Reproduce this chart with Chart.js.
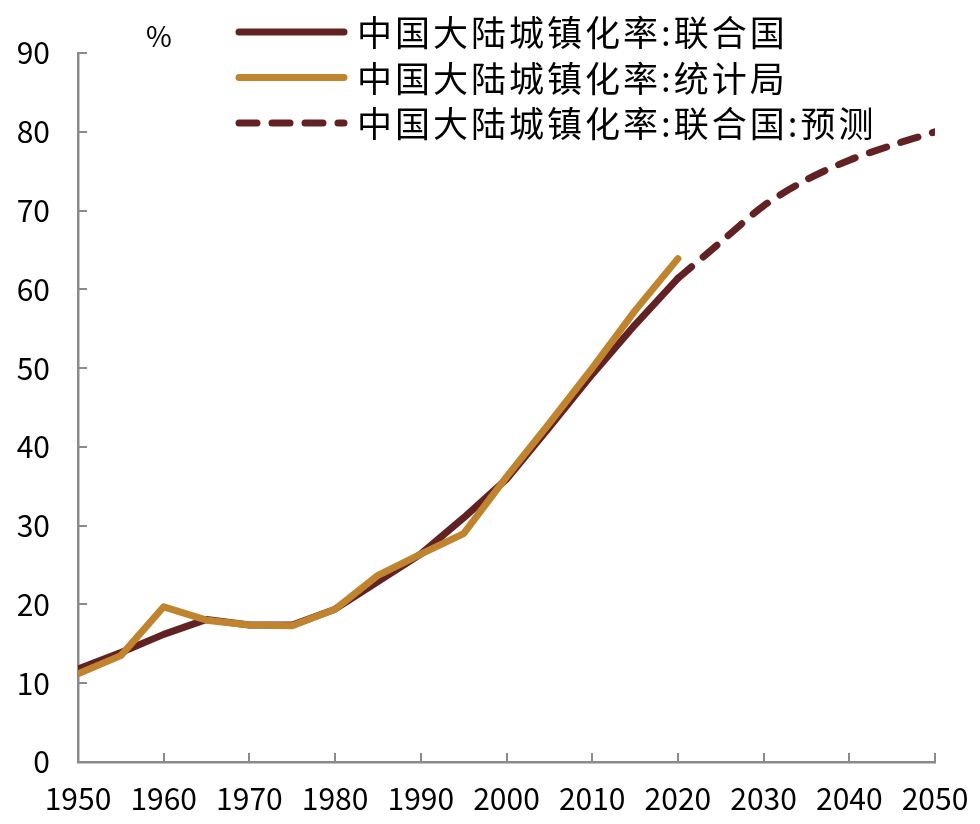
<!DOCTYPE html>
<html>
<head>
<meta charset="utf-8">
<script src="https://cdn.jsdelivr.net/npm/chart.js@4.4.1/dist/chart.umd.min.js"></script>
<style>
html,body{margin:0;padding:0;background:#fff;}
#wrap{width:980px;height:824px;position:relative;}
</style>
</head>
<body>
<div id="wrap"><canvas id="c" width="980" height="824"></canvas></div>
<script>
// ---- data ----
const years = [1950,1955,1960,1965,1970,1975,1980,1985,1990,1995,2000,2005,2010,2015,2020];
const unValues = [11.8,13.9,16.2,18.1,17.4,17.4,19.4,22.9,26.4,31.0,35.9,42.5,49.2,55.5,61.4];
const nbsValues = [11.2,13.5,19.7,18.0,17.4,17.3,19.4,23.7,26.4,29.0,36.2,43.0,50.0,57.3,63.9];
const forecastYears = [2020,2025,2030,2035,2040,2045,2050];
const forecastValues = [61.4,66.0,70.6,73.9,76.4,78.3,80.0];
const seriesLabels = ['中国大陆城镇化率:联合国','中国大陆城镇化率:统计局','中国大陆城镇化率:联合国:预测'];
const unitLabel = '%';

const DARK = '#622224';
const ORANGE = '#C0842F';
const AXIS_COLOR = '#8a8a8a';
const FONT = '"Noto Sans CJK SC", "Noto Sans", sans-serif';

const toPoints = (xs, ys) => xs.map((x, i) => ({x: x, y: ys[i]}));

const tickMarks = {
  id: 'tickMarks',
  beforeDatasetsDraw(chart) {
    const ctx = chart.ctx, xs = chart.scales.x, ys = chart.scales.y;
    ctx.save();
    ctx.strokeStyle = AXIS_COLOR;
    ctx.lineWidth = 2;
    ctx.beginPath();
    xs.ticks.forEach(t => {
      const px = Math.round(xs.getPixelForValue(t.value));
      ctx.moveTo(px, ys.bottom);
      ctx.lineTo(px, ys.bottom - 9);
    });
    ys.ticks.forEach(t => {
      const py = Math.round(ys.getPixelForValue(t.value));
      ctx.moveTo(xs.left, py);
      ctx.lineTo(xs.left + 9, py);
    });
    ctx.stroke();
    ctx.restore();
  }
};

const customLegend = {
  id: 'customLegend',
  afterDraw(chart) {
    const ctx = chart.ctx;
    ctx.save();
    ctx.textBaseline = 'middle';
    ctx.textAlign = 'left';
    chart.data.datasets.forEach((ds, i) => {
      const yy = 32 + i * 45.5;
      ctx.strokeStyle = ds.borderColor;
      ctx.lineWidth = ds.borderWidth;
      ctx.lineCap = 'round';
      ctx.setLineDash(ds.borderDash || []);
      ctx.beginPath();
      ctx.moveTo(239, yy);
      ctx.lineTo(344, yy);
      ctx.stroke();
      ctx.setLineDash([]);
      ctx.font = '35px ' + FONT;
      ctx.letterSpacing = '3px';
      ctx.fillStyle = '#000';
      ctx.fillText(ds.label, 357, yy + 1);
    });
    ctx.letterSpacing = '0px';
    ctx.font = '28px ' + FONT;
    ctx.fillStyle = '#000';
    ctx.fillText(unitLabel, 146, 36);
    ctx.restore();
  }
};

new Chart(document.getElementById('c'), {
  type: 'line',
  data: {
    datasets: [
      {label: seriesLabels[0], data: toPoints(years, unValues), borderColor: DARK, backgroundColor: DARK,
       borderWidth: 7, pointRadius: 0, tension: 0, borderCapStyle: 'round', borderJoinStyle: 'round', order: 1},
      {label: seriesLabels[1], data: toPoints(years, nbsValues), borderColor: ORANGE, backgroundColor: ORANGE,
       borderWidth: 7, pointRadius: 0, tension: 0, borderCapStyle: 'round', borderJoinStyle: 'round', order: 0},
      {label: seriesLabels[2], data: toPoints(forecastYears, forecastValues), borderColor: DARK, backgroundColor: DARK,
       borderWidth: 7, pointRadius: 0, tension: 0.3, borderCapStyle: 'round', borderJoinStyle: 'round', borderDash: [18, 15], order: 2}
    ]
  },
  options: {
    responsive: false,
    animation: false,
    devicePixelRatio: 1,
    layout: {padding: {top: 53, right: 45, left: 0, bottom: 0}},
    plugins: {legend: {display: false}, tooltip: {enabled: false}},
    scales: {
      x: {
        type: 'linear', min: 1950, max: 2050,
        afterFit(s) { s.height = 62; s.paddingRight = 0; s.paddingLeft = 0; },
        ticks: {stepSize: 10, autoSkip: false, maxRotation: 0, padding: 19, color: '#000',
                font: {family: FONT, size: 30}, callback: v => String(v)},
        grid: {display: false, drawTicks: false},
        border: {display: true, color: AXIS_COLOR, width: 2.5}
      },
      y: {
        min: 0, max: 90,
        afterFit(s) { s.width = 78; s.paddingTop = 0; s.paddingBottom = 0; },
        ticks: {stepSize: 10, padding: 28, color: '#000', font: {family: FONT, size: 30}},
        grid: {display: false, drawTicks: false},
        border: {display: true, color: AXIS_COLOR, width: 2.5}
      }
    }
  },
  plugins: [tickMarks, customLegend]
});
</script>
</body>
</html>
